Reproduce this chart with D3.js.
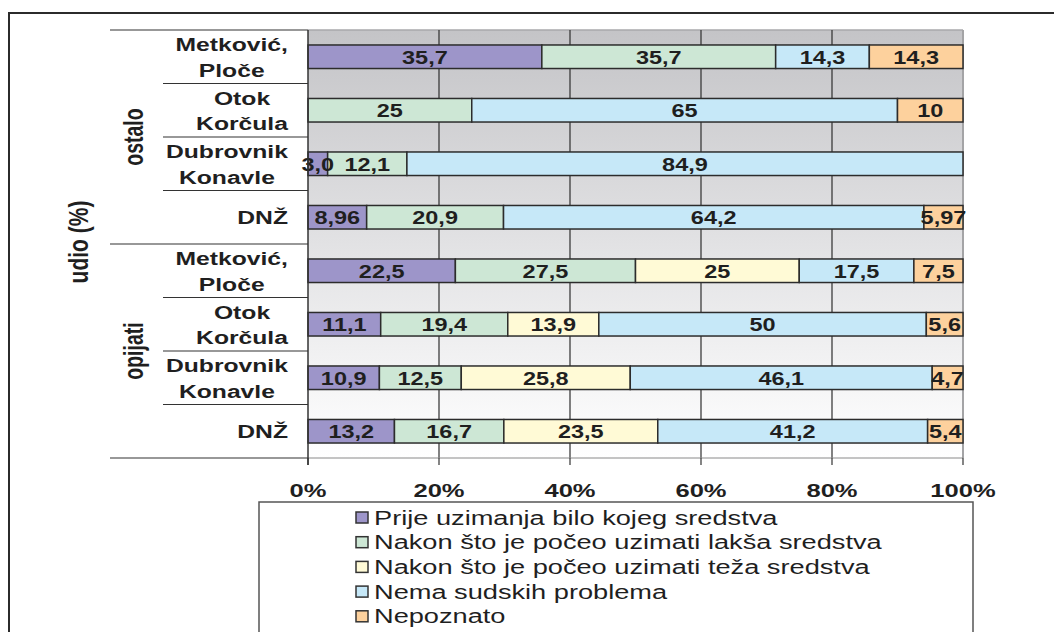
<!DOCTYPE html>
<html>
<head>
<meta charset="utf-8">
<script src="https://cdn.jsdelivr.net/npm/d3@7"></script>
<style>
  html, body { margin: 0; padding: 0; background: #fff; }
  svg { display: block; }
</style>
</head>
<body>
<svg id="chart" width="1054" height="632"></svg>
<script>
// ---- data ---------------------------------------------------------------
const groupNames = ["ostalo", "opijati"];
const categoryLines = [
  ["Metković,", "Ploče"], ["Otok", "Korčula"], ["Dubrovnik", "Konavle"], ["DNŽ"],
  ["Metković,", "Ploče"], ["Otok", "Korčula"], ["Dubrovnik", "Konavle"], ["DNŽ"]
];
const categoryGroup = [0, 0, 0, 0, 1, 1, 1, 1];

const seriesNames = [
  "Prije uzimanja bilo kojeg sredstva",
  "Nakon što je počeo uzimati lakša sredstva",
  "Nakon što je počeo uzimati teža sredstva",
  "Nema sudskih problema",
  "Nepoznato"
];
const seriesColors = ["#9d95c9", "#cde7d5", "#fffad6", "#c6e8f8", "#fdd19d"];

// shares in %, written as printed (decimal comma); "" = no segment
const prije     = ["35,7", "",   "3,0",  "8,96", "22,5", "11,1", "10,9", "13,2"];
const laksa     = ["35,7", "25", "12,1", "20,9", "27,5", "19,4", "12,5", "16,7"];
const teza      = ["",     "",   "",     "",     "25",   "13,9", "25,8", "23,5"];
const nema      = ["14,3", "65", "84,9", "64,2", "17,5", "50",   "46,1", "41,2"];
const nepoznato = ["14,3", "10", "",     "5,97", "7,5",  "5,6",  "4,7",  "5,4"];
const seriesValues = [prije, laksa, teza, nema, nepoznato];

const tickValues = [0, 0.2, 0.4, 0.6, 0.8, 1];
const tickLabels = ["0%", "20%", "40%", "60%", "80%", "100%"];
const axisTitle = "udio (%)";

// ---- setup --------------------------------------------------------------
const FONT = "Arial, 'Liberation Sans', Helvetica, sans-serif";
const SX = 1.3;               // horizontal stretch of lettering
const INK = "#1f1f1f";

const svg = d3.select("#chart");
const num = s => s === "" ? 0 : +s.replace(",", ".");

const rows = categoryLines.map((c, i) => {
  const r = { idx: i };
  seriesNames.forEach((k, j) => { r[k] = num(seriesValues[j][i]); });
  return r;
});
const stacked = d3.stack().keys(seriesNames).offset(d3.stackOffsetExpand)(rows);

const x = d3.scaleLinear().domain([0, 1]).range([308, 963]);
const y = d3.scaleBand().domain(d3.range(rows.length)).range([30, 458]).padding(0);
const barH = y.bandwidth() * 0.44;

function stretched(sel, px, py, sx = SX) {
  return sel.attr("transform", `translate(${px},${py}) scale(${sx},1)`);
}

// ---- outer frame --------------------------------------------------------
svg.append("rect")
  .attr("x", 9).attr("y", 13).attr("width", 1100).attr("height", 700)
  .attr("fill", "none").attr("stroke", "#2b2b2b").attr("stroke-width", 2);

// ---- plot background ----------------------------------------------------
const defs = svg.append("defs");
const grad = defs.append("linearGradient").attr("id", "bg")
  .attr("x1", 0).attr("y1", 0).attr("x2", 0).attr("y2", 1);
grad.append("stop").attr("offset", 0).attr("stop-color", "#c4c4c7");
grad.append("stop").attr("offset", 0.5).attr("stop-color", "#e2e2e4");
grad.append("stop").attr("offset", 1).attr("stop-color", "#ffffff");

svg.append("rect")
  .attr("x", x(0)).attr("y", y.range()[0])
  .attr("width", x(1) - x(0)).attr("height", y.range()[1] - y.range()[0])
  .attr("fill", "url(#bg)");

// top and right plot edges
svg.append("line").attr("x1", x(0)).attr("x2", x(1)).attr("y1", 30).attr("y2", 30)
  .attr("stroke", "#a9a9ab").attr("stroke-width", 1.5);
svg.append("line").attr("x1", x(1)).attr("x2", x(1)).attr("y1", 30).attr("y2", 458)
  .attr("stroke", "#a4a4a6").attr("stroke-width", 2);

// vertical gridlines
svg.append("g").selectAll("line")
  .data(tickValues.slice(1, -1)).join("line")
  .attr("x1", d => x(d)).attr("x2", d => x(d))
  .attr("y1", 30).attr("y2", 458)
  .attr("stroke", "#2e2e2e").attr("stroke-width", 1.2);

// ---- bars ---------------------------------------------------------------
const barG = svg.append("g");
stacked.forEach((layer, j) => {
  barG.append("g").selectAll("rect")
    .data(layer.filter(d => d[1] - d[0] > 0)).join("rect")
    .attr("x", d => x(d[0]))
    .attr("width", d => x(d[1]) - x(d[0]))
    .attr("y", d => y(d.data.idx) + (y.bandwidth() - barH) / 2)
    .attr("height", barH)
    .attr("fill", seriesColors[j])
    .attr("stroke", "#2c2c2c").attr("stroke-width", 1.5);
});

// value labels
const labG = svg.append("g")
  .attr("font-family", FONT).attr("font-weight", "bold")
  .attr("font-size", 18.5).attr("fill", INK).attr("text-anchor", "middle");
stacked.forEach((layer, j) => {
  layer.forEach((d, i) => {
    const txt = seriesValues[j][i];
    if (txt === "") return;
    const cx = (x(d[0]) + x(d[1])) / 2;
    const cy = y(i) + y.bandwidth() / 2 + 6.8;
    stretched(labG.append("text"), cx, cy, 1.27).text(txt);
  });
});

// ---- axes ---------------------------------------------------------------
// value axis along the bottom
svg.append("line").attr("x1", x(0)).attr("x2", x(1)).attr("y1", 458).attr("y2", 458)
  .attr("stroke", "#8a8a8a").attr("stroke-width", 1.2);
svg.append("g").selectAll("line")
  .data(tickValues).join("line")
  .attr("x1", d => x(d)).attr("x2", d => x(d))
  .attr("y1", 458).attr("y2", 465)
  .attr("stroke", "#333").attr("stroke-width", 1.2);
const tickG = svg.append("g")
  .attr("font-family", FONT).attr("font-weight", "bold")
  .attr("font-size", 18).attr("fill", INK).attr("text-anchor", "middle");
tickValues.forEach((v, i) => {
  stretched(tickG.append("text"), x(v), 497, 1.42).text(tickLabels[i]);
});

// category axis line
svg.append("line").attr("x1", x(0)).attr("x2", x(0)).attr("y1", 30).attr("y2", 465)
  .attr("stroke", "#333").attr("stroke-width", 1.5);

// separators between categories and between groups
const bounds = d3.range(rows.length + 1).map(i =>
  i < rows.length ? y(i) : y.range()[1]);
svg.append("g").selectAll("line")
  .data(bounds.map((b, i) => ({ b, i }))).join("line")
  .attr("x1", d => (d.i % 4 === 0) ? 110 : 163)
  .attr("x2", x(0))
  .attr("y1", d => d.b).attr("y2", d => d.b)
  .attr("stroke", "#333").attr("stroke-width", 1.2);

// category labels (multi-line, centred within a right-aligned block)
const catG = svg.append("g")
  .attr("font-family", FONT).attr("font-weight", "bold")
  .attr("font-size", 19).attr("fill", INK).attr("text-anchor", "middle");
const LINE = 25.5;
categoryLines.forEach((lines, i) => {
  const cy = y(i) + y.bandwidth() / 2;
  const nodes = lines.map((t, k) => {
    const by = cy - (lines.length - 1) * LINE / 2 + k * LINE + 7;
    return catG.append("text").text(t).attr("data-by", by);
  });
  const maxW = d3.max(nodes, n => n.node().getComputedTextLength()) * SX;
  const cx = 288 - maxW / 2;
  nodes.forEach(n => stretched(n, cx, +n.attr("data-by")));
});

// group labels, rotated
const grpG = svg.append("g")
  .attr("font-family", FONT).attr("font-weight", "bold")
  .attr("font-size", 19.5).attr("fill", INK).attr("text-anchor", "middle");
groupNames.forEach((g, gi) => {
  const idx = categoryGroup.map((c, i) => c === gi ? i : -1).filter(i => i >= 0);
  const top = y(idx[0]);
  const bot = y(idx[idx.length - 1]) + y.bandwidth();
  grpG.append("text")
    .attr("transform", `translate(143,${(top + bot) / 2}) scale(1.45,1) rotate(-90)`)
    .text(g);
});

// axis title
svg.append("text")
  .attr("font-family", FONT).attr("font-weight", "bold")
  .attr("font-size", 21).attr("fill", INK).attr("text-anchor", "middle")
  .attr("transform", `translate(88,242) scale(1.3,1) rotate(-90)`)
  .text(axisTitle);

// ---- legend -------------------------------------------------------------
svg.append("rect")
  .attr("x", 259).attr("y", 502).attr("width", 714).attr("height", 200)
  .attr("fill", "#fff").attr("stroke", "#555").attr("stroke-width", 1.5);

const leg = svg.append("g")
  .attr("font-family", FONT).attr("font-size", 20).attr("fill", INK);
seriesNames.forEach((name, j) => {
  const cy = 517.5 + j * 24.7;
  leg.append("rect")
    .attr("x", 356).attr("y", cy - 5.5).attr("width", 12).attr("height", 11)
    .attr("fill", seriesColors[j]).attr("stroke", "#333").attr("stroke-width", 1.5);
  stretched(leg.append("text"), 374, cy + 7, 1.36).text(name);
});
</script>
</body>
</html>
